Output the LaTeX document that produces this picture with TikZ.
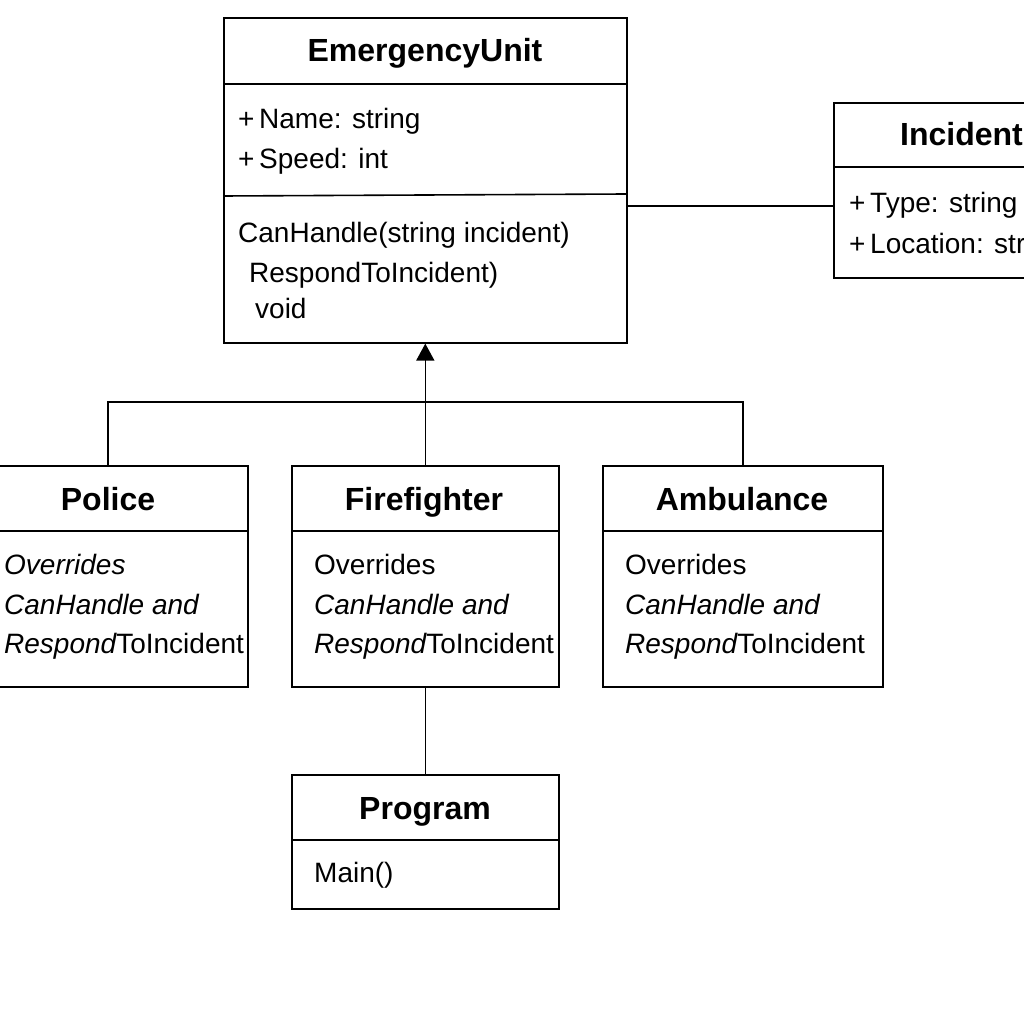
\documentclass[tikz,border=0pt]{standalone}
\usepackage{fontspec}
\setmainfont{Liberation Sans}
\usetikzlibrary{arrows.meta}
\begin{document}
\begin{tikzpicture}[x=1pt,y=-1pt,
  umlbox/.style={draw, line width=1.6pt, rectangle, inner sep=0pt, anchor=north west},
  sepline/.style={line width=1.6pt},
  conn/.style={line width=1.6pt},
  ttl/.style={font=\fontsize{32}{38}\selectfont\bfseries, anchor=base, inner sep=0pt},
  txt/.style={font=\fontsize{28}{34}\selectfont, anchor=base west, inner sep=0pt}]
\useasboundingbox[fill=white] (0,0) rectangle (1024,1024);
\clip (0,0) rectangle (1024,1024);

% EmergencyUnit
\node[umlbox, minimum width=403pt, minimum height=325pt] (eu) at (223,17) {};
\draw[sepline] (223,84) -- (626,84);
\draw[sepline] (223,196) -- (626,194);
\node[ttl] (eut) at (425,62) {EmergencyUnit};
\node[txt] (eua1) at (238,129) {+\,Name: string};
\node[txt] (eua2) at (238,169) {+\,Speed: int};
\node[txt] (eum1) at (238,242) {CanHandle(string incident)};
\node[txt] (eum2) at (249,282) {RespondToIncident)};
\node[txt] (eum3) at (255,318) {void};

% Incident
\node[umlbox, minimum width=300pt, minimum height=175pt] (inc) at (833,102) {};
\draw[sepline] (833,167) -- (1133,167);
\node[ttl, anchor=base west] (inct) at (900,146) {Incidente};
\node[txt] (inca1) at (849,213) {+\,Type: string};
\node[txt] (inca2) at (849,253) {+\,Location: string};

% Police
\node[umlbox, minimum width=280pt, minimum height=221pt] (pol) at (-33,465) {};
\draw[sepline] (-33,531) -- (247,531);
\node[ttl] (polt) at (108,510) {Police};
\node[txt] (pol1) at (4,574) {\itshape Overrides};
\node[txt] (pol2) at (4,614) {\itshape CanHandle and};
\node[txt] (pol3) at (4,653) {{\itshape Respond}ToIncident};

% Firefighter
\node[umlbox, minimum width=267pt, minimum height=221pt] (ff) at (291,465) {};
\draw[sepline] (291,531) -- (558,531);
\node[ttl] (fft) at (424,510) {Firefighter};
\node[txt] (ff1) at (314,574) {Overrides};
\node[txt] (ff2) at (314,614) {\itshape CanHandle and};
\node[txt] (ff3) at (314,653) {{\itshape Respond}ToIncident};

% Ambulance
\node[umlbox, minimum width=280pt, minimum height=221pt] (amb) at (602,465) {};
\draw[sepline] (602,531) -- (882,531);
\node[ttl] (ambt) at (742,510) {Ambulance};
\node[txt] (amb1) at (625,574) {Overrides};
\node[txt] (amb2) at (625,614) {\itshape CanHandle and};
\node[txt] (amb3) at (625,653) {{\itshape Respond}ToIncident};

% Program
\node[umlbox, minimum width=267pt, minimum height=134pt] (prog) at (291,774) {};
\draw[sepline] (291,840) -- (558,840);
\node[ttl] (progt) at (425,819) {Program};
\node[txt] (prog1) at (314,882) {Main()};

% connectors
\coordinate (bus) at (425,402);
\draw[conn] (eu.east |- 0,206) -- (inc.west |- 0,206);
\draw[conn, -{Triangle[width=18pt,length=17pt]}] (ff.north) -- (eu.south);
\draw[conn] (pol.north) -- (pol.north |- bus) -- (amb.north |- bus) -- (amb.north);
\draw[conn] (ff.south) -- (prog.north);
\end{tikzpicture}
\end{document}
